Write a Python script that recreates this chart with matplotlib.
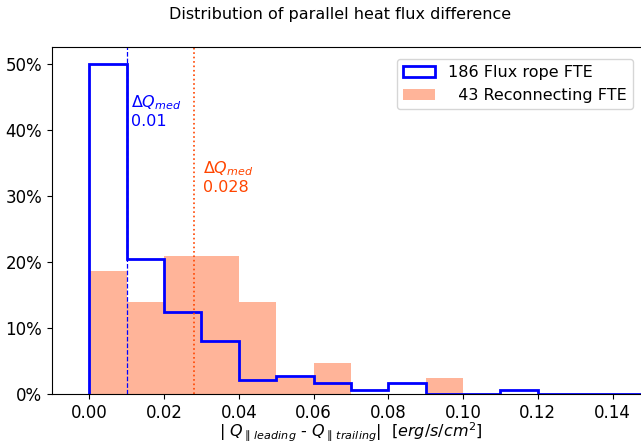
import numpy as np
import matplotlib
matplotlib.use("Agg")
import matplotlib.pyplot as plt
from matplotlib.ticker import PercentFormatter

# bin edges (width 0.01)
edges = np.round(np.arange(0, 0.17, 0.01), 2)

# counts per bin
rope_counts = [93, 38, 23, 15, 4, 5, 3, 1, 3, 0, 0, 1, 0, 0, 0, 0]
recon_counts = [8, 6, 9, 9, 6, 1, 2, 0, 0, 1, 0, 0, 0, 0, 0, 0]
n_rope = 186
n_recon = 43

rope_med = 0.01
recon_med = 0.028

rope_pct = np.array(rope_counts) / n_rope * 100
recon_pct = np.array(recon_counts) / n_recon * 100
centers = (edges[:-1] + edges[1:]) / 2

fig = plt.figure(figsize=(6.41, 4.44), dpi=100)
ax = fig.add_axes([0.081, 0.113, 0.933, 0.781])

ax.hist(centers, bins=edges, weights=rope_pct, histtype="step",
        color="blue", lw=2, label=f"{n_rope} Flux rope FTE")
ax.hist(centers, bins=edges, weights=recon_pct, color="orangered",
        alpha=0.4, label=f"  {n_recon} Reconnecting FTE")

ax.axvline(rope_med, color="blue", ls="--", lw=0.9)
ax.axvline(recon_med, color="orangered", ls=":", lw=1.2)

ax.text(rope_med + 0.0012, 45.5, "$\\Delta Q_{med}$\n" + f"{rope_med}",
        color="blue", fontsize=11.5, va="top", ha="left")
ax.text(recon_med + 0.0025, 35.5, "$\\Delta Q_{med}$\n" + f"{recon_med}",
        color="orangered", fontsize=11.5, va="top", ha="left")

ax.set_xlim(-0.01, 0.15)
ax.set_ylim(0, 52.5)
ax.set_xticks(np.round(np.arange(0, 0.15, 0.02), 2))
ax.set_yticks(range(0, 51, 10))
ax.yaxis.set_major_formatter(PercentFormatter(decimals=0))
ax.tick_params(labelsize=12)

ax.set_xlabel(r"| $Q_{\parallel\,leading}$ - $Q_{\parallel\,trailing}$|  [$erg/s/cm^2$]",
              fontsize=11.5, labelpad=-1)
fig.suptitle("Distribution of parallel heat flux difference", fontsize=11.5,
             x=0.53, y=0.985)
ax.legend(loc="upper right", fontsize=11.5, bbox_to_anchor=(0.985, 0.99))

fig.savefig("out.png", dpi=100)
